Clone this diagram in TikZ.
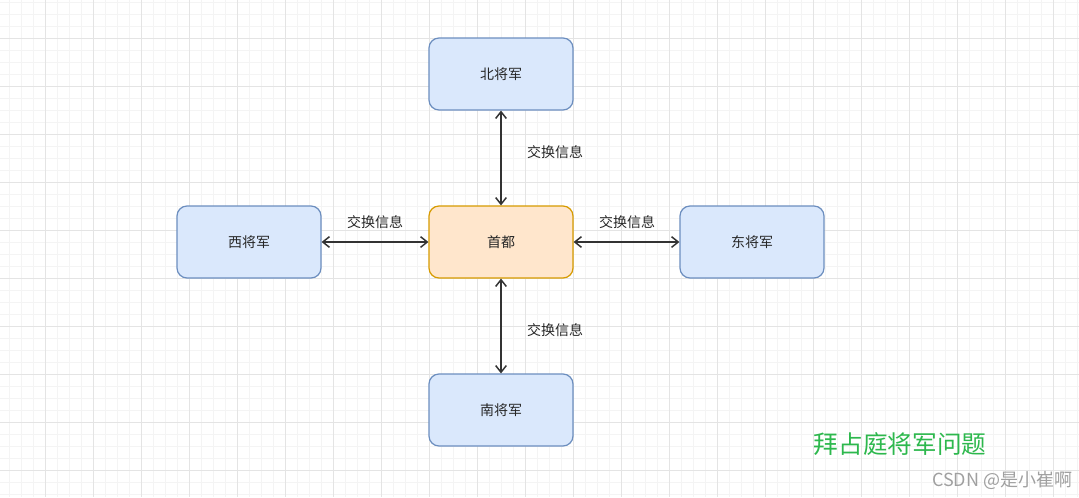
\documentclass[tikz,border=0pt]{standalone}
\usepackage{fontspec}
\setmainfont{Noto Sans CJK SC}
\newfontfamily\cjk{Noto Sans CJK SC}
\usetikzlibrary{arrows.meta}
\definecolor{minorgrid}{HTML}{F4F4F4}
\definecolor{majorgrid}{HTML}{E4E4E4}
\definecolor{bluefill}{HTML}{DAE8FC}
\definecolor{bluedraw}{HTML}{6C8EBF}
\definecolor{orangefill}{HTML}{FFE6CC}
\definecolor{orangedraw}{HTML}{D79B00}
\definecolor{titlegreen}{HTML}{2DB84D}
\definecolor{wmgray}{HTML}{A0A0A0}
\definecolor{linecol}{HTML}{333333}
\begin{document}
\begin{tikzpicture}[x=0.75pt,y=-0.75pt,
  minorline/.style={draw=minorgrid,line width=0.6pt},
  majorline/.style={draw=majorgrid,line width=0.75pt},
  genbox/.style={rounded corners=7.5pt,minimum width=108pt,minimum height=54pt,line width=0.9pt,font=\cjk\fontsize{10.5}{12}\selectfont,text=black!85},
  bluebox/.style={genbox,fill=bluefill,draw=bluedraw},
  orangebox/.style={genbox,fill=orangefill,draw=orangedraw},
  conn/.style={draw=linecol,line width=1.1pt,{Straight Barb[length=5pt,width=8pt]}-{Straight Barb[length=5pt,width=8pt]}},
  lbl/.style={font=\cjk\fontsize{10.5}{12}\selectfont,text=black!85}
]
\useasboundingbox (0,0) rectangle (1079,497);
\fill[white] (0,0) rectangle (1079,497);
\foreach \x in {9,21,...,1079} \draw[minorline] (\x,0) -- (\x,497);
\foreach \y in {2,14,...,497} \draw[minorline] (0,\y) -- (1079,\y);
\foreach \x in {45,93,...,1079} \draw[majorline] (\x,0) -- (\x,497);
\foreach \y in {38,86,...,497} \draw[majorline] (0,\y) -- (1079,\y);

\node[bluebox] (north) at (501,74) {北将军};
\node[orangebox] (capital) at (501,242) {首都};
\node[bluebox] (west) at (249,242) {西将军};
\node[bluebox] (east) at (752,242) {东将军};
\node[bluebox] (south) at (501,410) {南将军};

\draw[conn] (north) -- (capital);
\draw[conn] (west) -- (capital);
\draw[conn] (capital) -- (east);
\draw[conn] (capital) -- (south);

\node[lbl] (lnorth) at (555,152) {交换信息};
\node[lbl] (lwest) at (375,222) {交换信息};
\node[lbl] (least) at (627,222) {交换信息};
\node[lbl] (lsouth) at (555,330) {交换信息};

\node[font=\cjk\fontsize{18.5}{20}\selectfont,text=titlegreen] (title) at (900,444) {拜占庭将军问题};
\node[font=\cjk\fontsize{13.5}{15}\selectfont,text=wmgray,anchor=east] (wm) at (1077,480) {CSDN @是小崔啊};
\end{tikzpicture}
\end{document}
